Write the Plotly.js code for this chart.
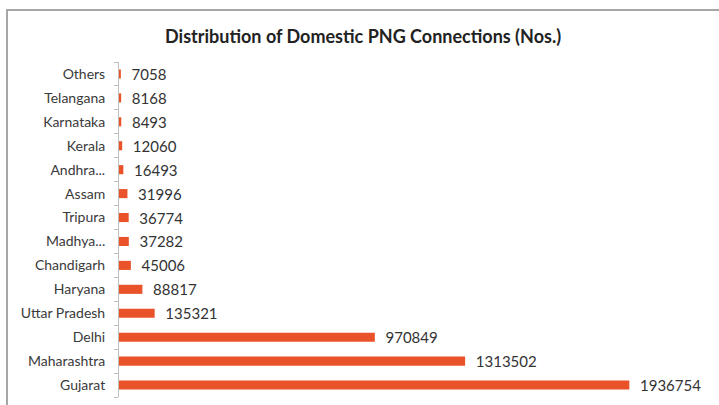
<!DOCTYPE html>
<html>
<head>
<meta charset="utf-8">
<script src="https://cdn.plot.ly/plotly-3.0.1.min.js"></script>
<style>html,body{margin:0;padding:0;background:#fff;}#chart{width:719px;height:405px;}</style>
</head>
<body>
<div id="chart"></div>
<script>
const states = ["Gujarat","Maharashtra","Delhi","Uttar Pradesh","Haryana","Chandigarh","Madhya...","Tripura","Assam","Andhra...","Kerala","Karnataka","Telangana","Others"];
const connections = [1936754,1313502,970849,135321,88817,45006,37282,36774,31996,16493,12060,8493,8168,7058];
const chartTitle = "Distribution of Domestic PNG Connections (Nos.)";

const trace = {
  type: 'bar',
  orientation: 'h',
  y: states,
  x: connections,
  text: connections.map(v => '\u00a0\u00a0' + String(v)),
  textposition: 'outside',
  constraintext: 'none',
  cliponaxis: false,
  textfont: {family: 'Lato, sans-serif', size: 15, color: '#333333'},
  marker: {color: '#EA5329'},
  hoverinfo: 'none'
};

const layout = {
  width: 719, height: 405,
  margin: {l: 119, r: 73, t: 62, b: 8},
  paper_bgcolor: '#ffffff', plot_bgcolor: '#ffffff',
  showlegend: false,
  bargap: 0.62,
  title: {text: '<b>' + chartTitle + '</b>', x: 0.505, xanchor: 'center', y: 0.91, yanchor: 'middle',
          font: {family: 'Lato, sans-serif', size: 18, color: '#222222'}},
  xaxis: {range: [0, 2000000], visible: false, fixedrange: true},
  yaxis: {type: 'category', categoryorder: 'array', categoryarray: states,
          showline: true, linecolor: '#bfbfbf', linewidth: 1,
          ticks: 'outside', ticklen: 4, tickcolor: '#bfbfbf', tickson: 'boundaries',
          ticklabelstandoff: 10,
          showgrid: false, zeroline: false,
          tickfont: {family: 'Lato, sans-serif', size: 14, color: '#3a3a3a'}},
  shapes: [{type: 'rect', xref: 'paper', yref: 'paper',
            x0: -0.2125, x1: 1.4, y0: -0.3, y1: 1.155,
            line: {color: '#a6a6a6', width: 2}, fillcolor: 'rgba(0,0,0,0)'}]
};

Plotly.newPlot('chart', [trace], layout, {staticPlot: true, displayModeBar: false});
</script>
</body>
</html>
